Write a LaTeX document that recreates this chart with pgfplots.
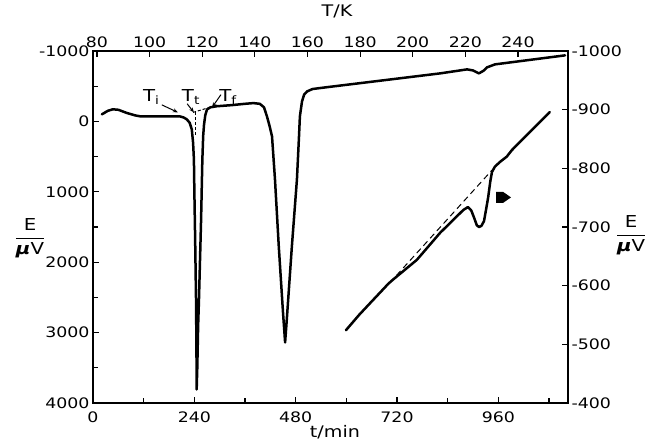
\documentclass[border=0pt]{standalone}
\usepackage{fontspec}
\setmainfont[FakeStretch=1.2]{DejaVu Sans}
\usepackage{pgfplots}
\pgfplotsset{compat=1.18}
\usetikzlibrary{arrows.meta}

\pgfplotstableread{
t E
21 -100
35 -150
47 -172
60 -165
80 -120
100 -85
111 -73
150 -71
206 -71
215 -55
222 -30
229 20
234 114
237 300
239 540
240 966
242 1700
244 2528
245 3200
245.5 3807
247 3500
249 2900
251 2528
256 1392
259 540
261 200
263 43
266 -90
270 -170
278 -200
293 -215
330 -232
360 -250
380 -260
395 -250
405 -200
412 -71
418 60
424 213
431 824
440 1776
450 2713
455 3139
459 2813
471 1776
483 824
488 200
490 -71
495 -284
500 -380
507 -426
520 -460
550 -483
822 -682
886 -739
900 -724
914 -682
925 -720
933 -767
952 -810
1118 -938
}\maincurve

\pgfplotstableread{
t E
599 -524
630 -550
656 -570
690 -596
699 -603
710 -610
767 -644
822 -690
877 -729
888 -734
896 -728
903 -715
909 -703
914 -700
920 -702
926 -710
931 -730
936 -751
941 -778
945 -794
952 -803
964 -811
980 -820
992 -831
1011 -845
1082 -896
}\insetcurve

\pgfplotsset{
  base/.style={
    scale only axis, width=475bp, height=352bp,
    at={(0,0)}, anchor=south west,
    tick align=inside,
    axis line style={line width=1.2bp, black},
    every tick/.style={line width=1.2bp, black},
    major tick length=6bp, minor tick length=5bp,
    tick label style={font=\fontsize{14.5}{16}\selectfont},
    /pgf/number format/assume math mode=true,
    /pgf/number format/1000 sep={},
  }
}

\begin{document}
\begin{tikzpicture}
% main axis (left / bottom)
\begin{axis}[base,
  xmin=0, xmax=1125,
  ymin=-1000, ymax=4000, y dir=reverse,
  tick pos=left,
  xtick={0,240,480,720,960},
  minor xtick={120,360,600,840,1080},
  ytick={-1000,0,1000,2000,3000,4000},
  minor ytick={-500,500,1500,2500,3500},
  xticklabel style={yshift=-5bp},
]
\addplot[black, line width=2.5bp, line join=round, line cap=round] table[x=t,y=E] {\maincurve};
% annotations
\node[font=\fontsize{16.5}{18}\selectfont] at (axis cs:138,-350) {T\textsubscript{i}};
\node[font=\fontsize{16.5}{18}\selectfont] at (axis cs:232,-350) {T\textsubscript{t}};
\node[font=\fontsize{16.5}{18}\selectfont] at (axis cs:320,-350) {T\textsubscript{f}};
\draw[line width=1bp, -{Stealth[length=5bp,width=4bp]}] (axis cs:163,-235) -- (axis cs:201,-128);
\draw[line width=1bp, -{Stealth[length=5bp,width=4bp]}] (axis cs:223,-250) -- (axis cs:239,-128);
\draw[line width=1bp, -{Stealth[length=5bp,width=4bp]}] (axis cs:303,-380) -- (axis cs:282,-199);
\draw[line width=1bp, dash pattern=on 3bp off 2bp] (axis cs:237,-128) -- (axis cs:284,-213);
\draw[line width=1bp, dash pattern=on 3bp off 2bp] (axis cs:242,-128) -- (axis cs:242,213);
\end{axis}
% right axis
\begin{axis}[base,
  xmin=0, xmax=1125,
  ymin=-1000, ymax=-400, y dir=reverse,
  axis y line*=right, hide x axis,
  tick align=inside,
  ytick={-1000,-900,-800,-700,-600,-500,-400},
]
\addplot[black, line width=2.5bp, line join=round, line cap=round] table[x=t,y=E] {\insetcurve};
\addplot[black, line width=1bp, dash pattern=on 6bp off 4bp] coordinates {(703,-605) (945,-797)};
\fill[black] (axis cs:955,-760) -- (axis cs:971,-760) -- (axis cs:990,-750.5) -- (axis cs:971,-741) -- (axis cs:955,-741) -- cycle;
\end{axis}
% top axis (T/K)
\begin{axis}[base,
  xmin=78.5, xmax=259,
  ymin=0, ymax=1,
  axis x line*=top, hide y axis,
  tick align=inside,
  xtick={80,100,120,140,160,180,200,220,240},
]
\end{axis}
% axis labels
\node[font=\fontsize{16}{18}\selectfont] at (244bp,392bp) {T/K};
\node[font=\fontsize{16}{18}\selectfont] at (242bp,-29bp) {t/min};
\node[font=\fontsize{16.5}{18}\selectfont] at (-63bp,165bp) {$\displaystyle\frac{\mbox{E}}{\mbox{\textbf{\textit{μ}}V}}$};
\node[font=\fontsize{16.5}{18}\selectfont] at (538bp,168bp) {$\displaystyle\frac{\mbox{E}}{\mbox{\textbf{\textit{μ}}V}}$};
\pgfresetboundingbox
\path[use as bounding box] (-93bp,-38bp) rectangle (553bp,403bp);
\end{tikzpicture}
\end{document}
